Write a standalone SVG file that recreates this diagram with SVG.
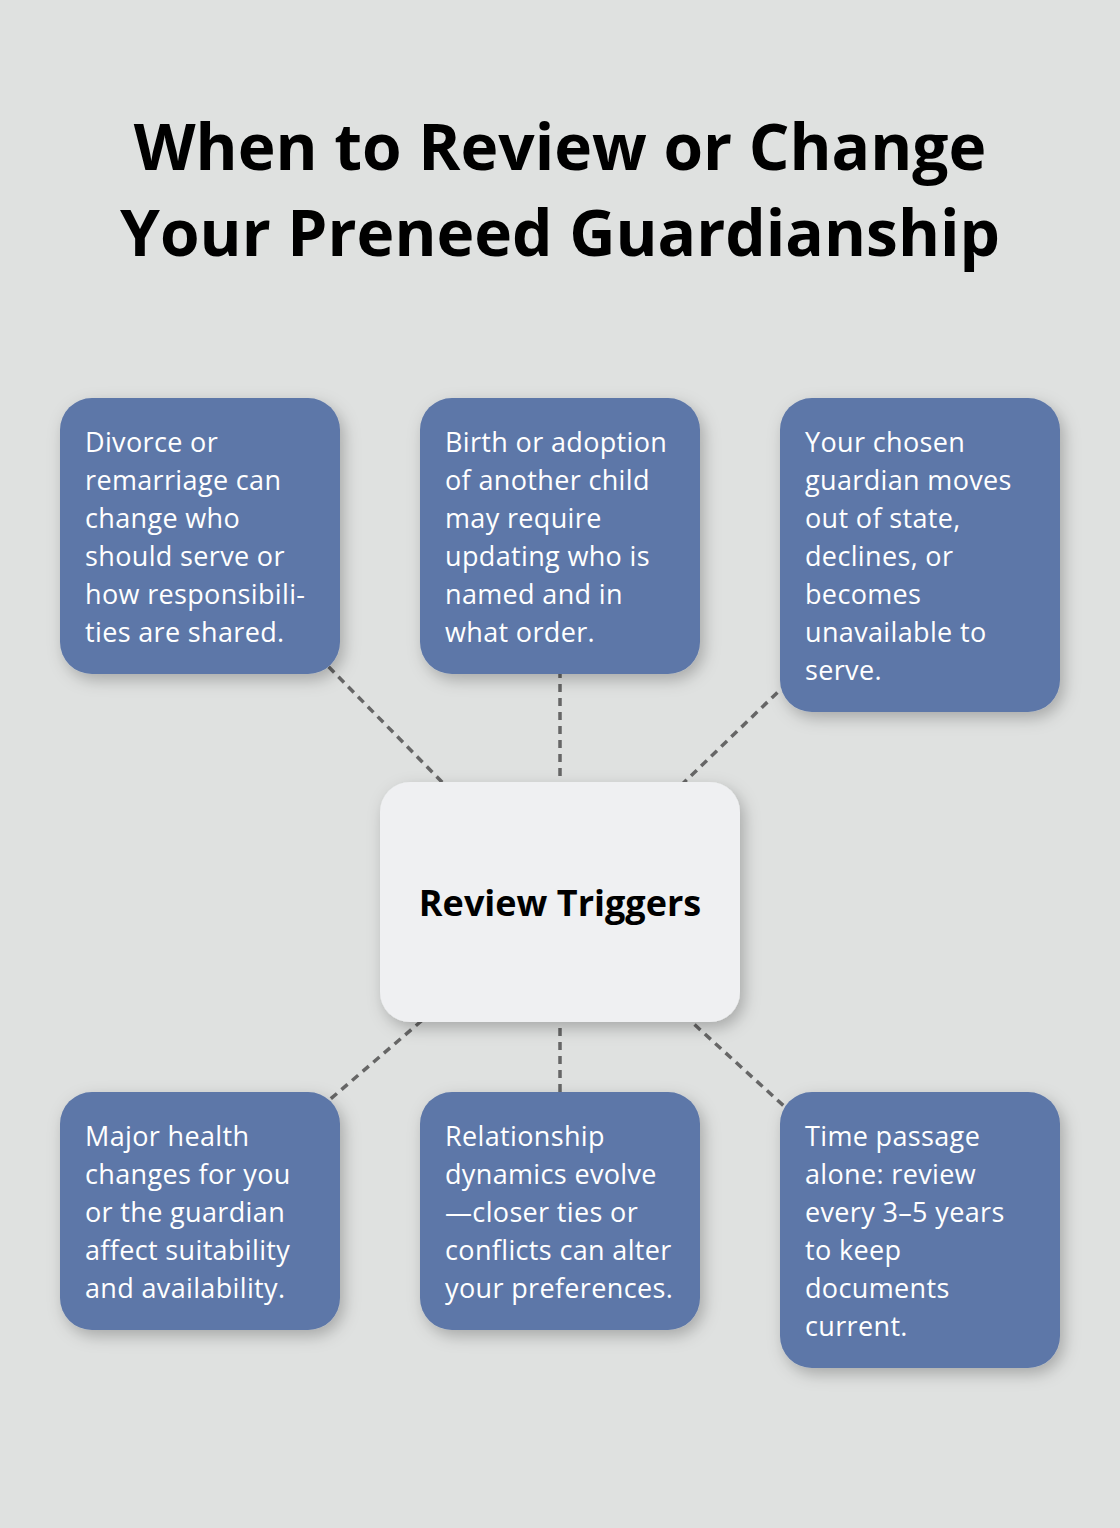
<svg xmlns="http://www.w3.org/2000/svg" width="1120" height="1528" viewBox="0 0 1120 1528">
<style>
.bg{fill:#dfe1e0}
.title{font-family:"Open Sans","DejaVu Sans",sans-serif;font-weight:700;font-size:64px;fill:#000;text-anchor:middle}
.box{fill:#5d77a8;filter:url(#sh)}
.center{fill:#eff0f2;filter:url(#sh)}
.t{font-family:"Open Sans","DejaVu Sans",sans-serif;font-size:27px;letter-spacing:0.35px;fill:#fff}
.ct{font-family:"Open Sans","DejaVu Sans",sans-serif;font-weight:700;font-size:36px;fill:#000;text-anchor:middle}
.conn{stroke:#666;stroke-width:3.5;stroke-dasharray:8 6;fill:none}
</style>
<defs>
<filter id="sh" x="-20%" y="-20%" width="150%" height="150%">
<feDropShadow dx="4" dy="6" stdDeviation="8" flood-color="#000" flood-opacity="0.25"/>
</filter>
</defs>
<rect class="bg" x="0" y="0" width="1120" height="1528"/>
<g id="title">
<text class="title" x="560" y="170">When to Review or Change</text>
<text class="title" x="560" y="256">Your Preneed Guardianship</text>
</g>
<g id="connectors">
<line class="conn" x1="560" y1="902" x2="200" y2="536"/>
<line class="conn" x1="560" y1="902" x2="560" y2="536"/>
<line class="conn" x1="560" y1="902" x2="920" y2="555"/>
<line class="conn" x1="560" y1="902" x2="200" y2="1211"/>
<line class="conn" x1="560" y1="902" x2="560" y2="1211"/>
<line class="conn" x1="560" y1="902" x2="920" y2="1230"/>
</g>
<g id="node-divorce">
<rect class="box" x="60" y="398" width="280" height="276" rx="32"/>
<text class="t"><tspan x="85" y="452">Divorce or</tspan><tspan x="85" y="490">remarriage can</tspan><tspan x="85" y="528">change who</tspan><tspan x="85" y="566">should serve or</tspan><tspan x="85" y="604">how responsibili-</tspan><tspan x="85" y="642">ties are shared.</tspan></text>
</g>
<g id="node-birth">
<rect class="box" x="420" y="398" width="280" height="276" rx="32"/>
<text class="t"><tspan x="445" y="452">Birth or adoption</tspan><tspan x="445" y="490">of another child</tspan><tspan x="445" y="528">may require</tspan><tspan x="445" y="566">updating who is</tspan><tspan x="445" y="604">named and in</tspan><tspan x="445" y="642">what order.</tspan></text>
</g>
<g id="node-guardian">
<rect class="box" x="780" y="398" width="280" height="314" rx="32"/>
<text class="t"><tspan x="805" y="452">Your chosen</tspan><tspan x="805" y="490">guardian moves</tspan><tspan x="805" y="528">out of state,</tspan><tspan x="805" y="566">declines, or</tspan><tspan x="805" y="604">becomes</tspan><tspan x="805" y="642">unavailable to</tspan><tspan x="805" y="680">serve.</tspan></text>
</g>
<g id="node-center">
<rect class="center" x="380" y="782" width="360" height="240" rx="30"/>
<text class="ct" x="560" y="916">Review Triggers</text>
</g>
<g id="node-health">
<rect class="box" x="60" y="1092" width="280" height="238" rx="32"/>
<text class="t"><tspan x="85" y="1146">Major health</tspan><tspan x="85" y="1184">changes for you</tspan><tspan x="85" y="1222">or the guardian</tspan><tspan x="85" y="1260">affect suitability</tspan><tspan x="85" y="1298">and availability.</tspan></text>
</g>
<g id="node-relationship">
<rect class="box" x="420" y="1092" width="280" height="238" rx="32"/>
<text class="t"><tspan x="445" y="1146">Relationship</tspan><tspan x="445" y="1184">dynamics evolve</tspan><tspan x="445" y="1222">—closer ties or</tspan><tspan x="445" y="1260">conflicts can alter</tspan><tspan x="445" y="1298">your preferences.</tspan></text>
</g>
<g id="node-time">
<rect class="box" x="780" y="1092" width="280" height="276" rx="32"/>
<text class="t"><tspan x="805" y="1146">Time passage</tspan><tspan x="805" y="1184">alone: review</tspan><tspan x="805" y="1222">every 3–5 years</tspan><tspan x="805" y="1260">to keep</tspan><tspan x="805" y="1298">documents</tspan><tspan x="805" y="1336">current.</tspan></text>
</g>
</svg>
